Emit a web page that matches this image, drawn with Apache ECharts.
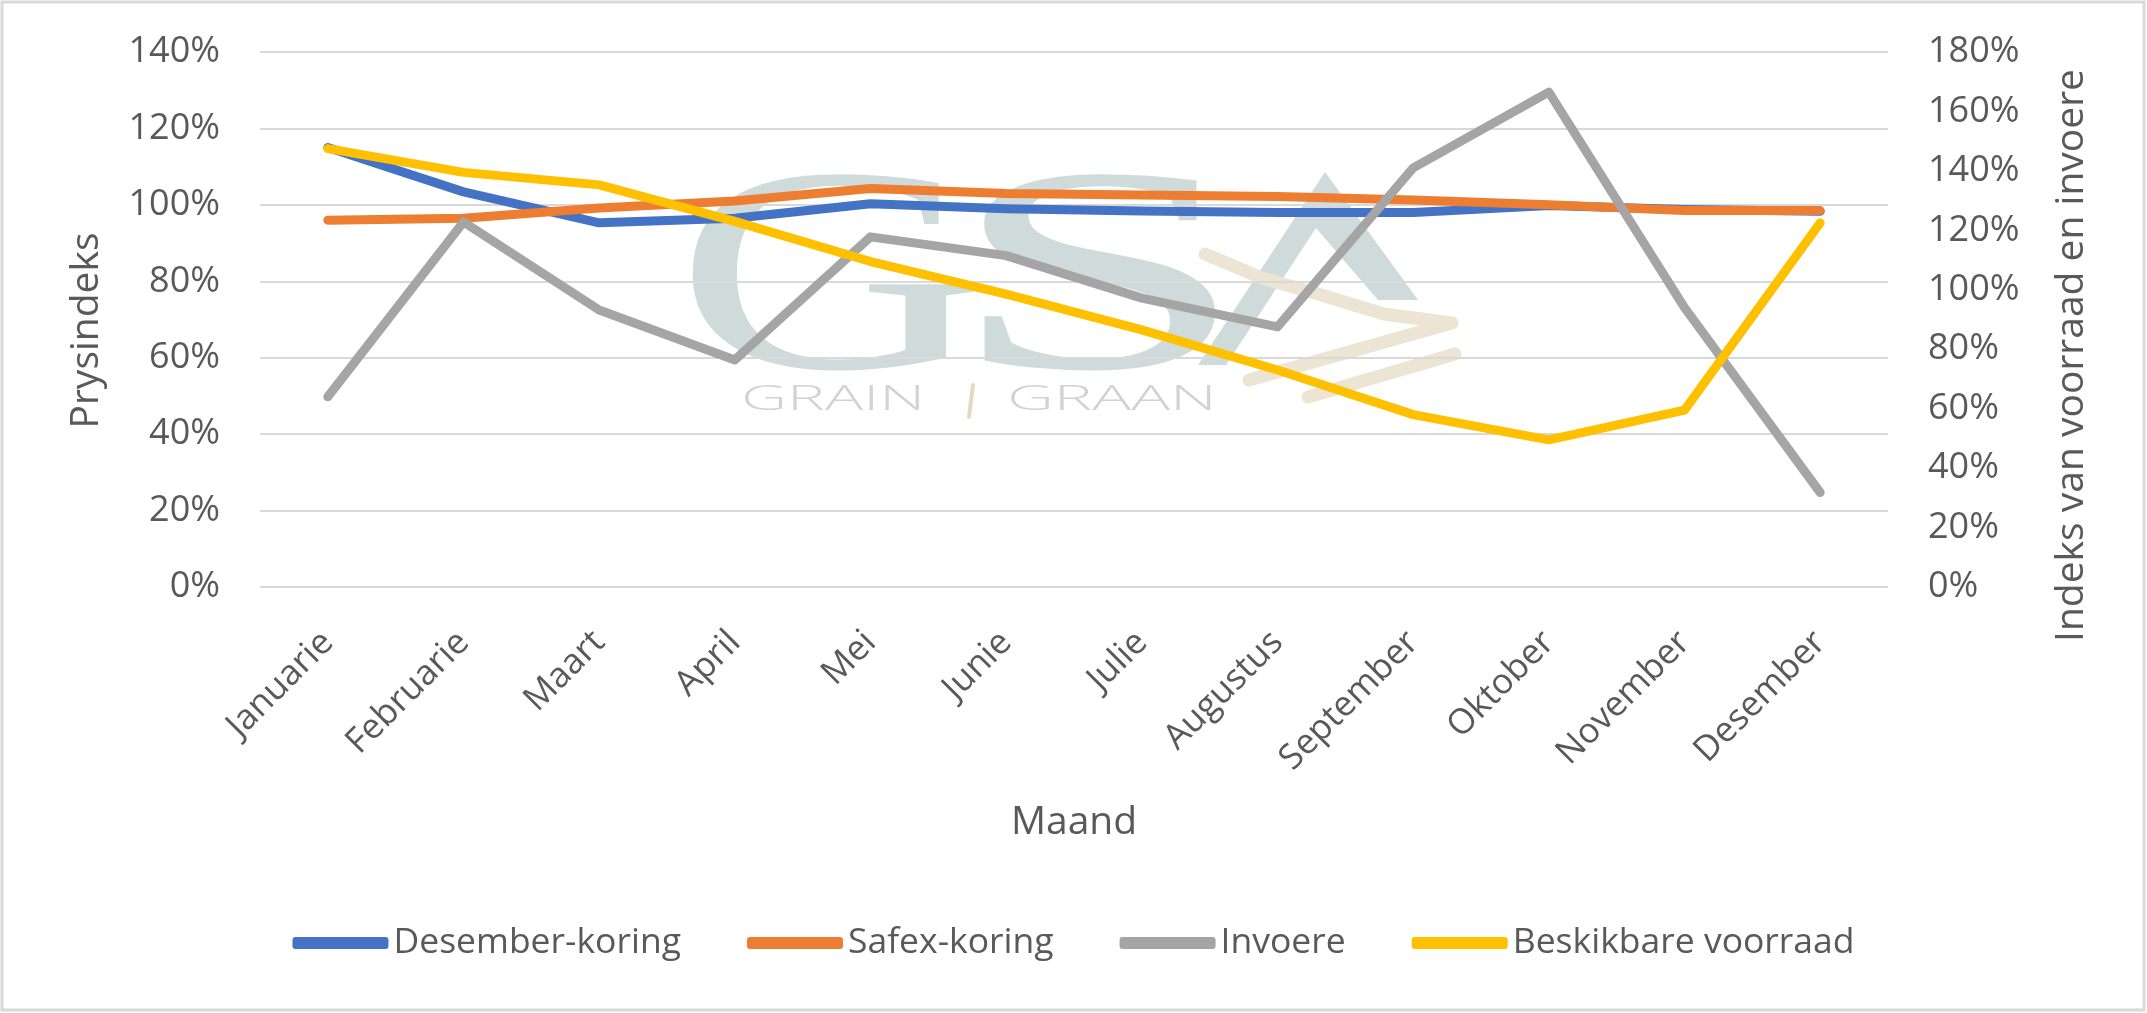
<!DOCTYPE html>
<html>
<head>
<meta charset="utf-8">
<script src="https://cdn.jsdelivr.net/npm/echarts@6/dist/echarts.min.js"></script>
<style>
html,body{margin:0;padding:0;background:#fff;}
#c{width:2147px;height:1013px;}
</style>
</head>
<body>
<div id="c"></div>
<script>
var months = ['Januarie','Februarie','Maart','April','Mei','Junie','Julie','Augustus','September','Oktober','November','Desember'];
var desemberKoring = [115, 103.4, 95.3, 96.5, 100.3, 99.0, 98.4, 98.0, 98.0, 99.8, 98.8, 98.3];
var safexKoring = [96, 96.5, 99.2, 101.0, 104.3, 103.0, 102.6, 102.2, 101.3, 100.0, 98.5, 98.5];
var invoere = [64, 122.8, 93.2, 76.4, 117.8, 111.5, 97.2, 87.5, 141, 166.5, 94, 31.8];
var beskikbareVoorraad = [147.5, 139.5, 135.3, 123, 109.5, 98.5, 86.5, 73, 58, 49.5, 59.5, 122.5];
var leftTicks = {min: 0, max: 140, interval: 20};
var rightTicks = {min: 0, max: 180, interval: 20};

var txt = '#595959';
var font = "'Open Sans', 'Noto Sans', sans-serif";
var chart = echarts.init(document.getElementById('c'), null, {renderer: 'canvas'});

function line(name, data, color, axis) {
  return {
    name: name, type: 'line', data: data, yAxisIndex: axis,
    symbol: 'none', smooth: false,
    lineStyle: {color: color, width: 9, cap: 'round', join: 'round'},
    itemStyle: {color: color},
    z: 3
  };
}

var wm = '#cfdadb';
var beige = '#ece5d4';

chart.setOption({
  backgroundColor: '#fff',
  animation: false,
  textStyle: {fontFamily: font, color: txt},
  grid: {left: 260, right: 259, top: 52, bottom: 426, containLabel: false},
  legend: {
    bottom: 47, left: 'center',
    itemWidth: 96, itemHeight: 12, itemGap: 66,
    icon: 'roundRect',
    textStyle: {fontSize: 35.5, color: txt, fontFamily: font},
    data: ['Desember-koring','Safex-koring','Invoere','Beskikbare voorraad']
  },
  xAxis: {
    type: 'category', data: months, boundaryGap: true,
    axisLine: {show: false}, axisTick: {show: false},
    axisLabel: {rotate: 45, fontSize: 35, color: txt, margin: 50, fontFamily: font, interval: 0},
    name: 'Maand', nameLocation: 'middle', nameGap: 216,
    nameTextStyle: {fontSize: 39, color: txt, fontFamily: font}
  },
  yAxis: [{
    type: 'value', min: leftTicks.min, max: leftTicks.max, interval: leftTicks.interval,
    position: 'left',
    axisLine: {show: false}, axisTick: {show: false},
    axisLabel: {formatter: '{value}%', fontSize: 36, color: txt, margin: 40, fontFamily: font},
    splitLine: {lineStyle: {color: '#d9d9d9', width: 2}},
    name: 'Prysindeks', nameLocation: 'middle', nameGap: 154, nameRotate: 90,
    nameTextStyle: {fontSize: 39, color: txt, fontFamily: font, padding: [0, 22, 0, 0]}
  }, {
    type: 'value', min: rightTicks.min, max: rightTicks.max, interval: rightTicks.interval,
    position: 'right',
    axisLine: {show: false}, axisTick: {show: false},
    axisLabel: {formatter: '{value}%', fontSize: 36, color: txt, margin: 40, fontFamily: font},
    splitLine: {show: false},
    name: 'Indeks van voorraad en invoere', nameLocation: 'middle', nameGap: 164, nameRotate: 90,
    nameTextStyle: {fontSize: 39, color: txt, fontFamily: font, padding: [0, 72, 0, 0]}
  }],
  graphic: [
    {type: 'rect', shape: {x: 2, y: 2, width: 2142, height: 1008}, style: {fill: 'none', stroke: '#d9d9d9', lineWidth: 3}, z: -10, silent: true},
    {type: 'text', x: 675, y: 291, scaleX: 1.48, style: {text: 'G', font: "normal 292px 'Liberation Serif', 'DejaVu Serif', serif", fill: wm, verticalAlign: 'middle', align: 'left'}, z: -5, silent: true},
    {type: 'text', x: 948, y: 291, scaleX: 1.85, style: {text: 'S', font: "normal 292px 'Liberation Serif', 'DejaVu Serif', serif", fill: wm, verticalAlign: 'middle', align: 'left'}, z: -5, silent: true},
    {type: 'polygon', shape: {points: [[1325, 172], [1418, 300], [1378, 300], [1316, 228], [1226, 365], [1198, 365]]}, style: {fill: wm}, z: -5, silent: true},
    {type: 'polyline', shape: {points: [[1205, 254], [1262, 278], [1318, 294], [1384, 314], [1452, 323], [1249, 380]]}, style: {stroke: beige, lineWidth: 13, fill: 'none', lineCap: 'round', lineJoin: 'round'}, z: -4, silent: true},
    {type: 'polyline', shape: {points: [[1308, 397], [1455, 354]]}, style: {stroke: beige, lineWidth: 13, fill: 'none', lineCap: 'round'}, z: -4, silent: true},
    {type: 'text', x: 741, y: 400, scaleX: 1.82, style: {text: 'GRAIN', font: "300 35px 'Open Sans', sans-serif", fill: '#d2d2d2', verticalAlign: 'middle', align: 'left'}, z: -4, silent: true},
    {type: 'text', x: 1007, y: 400, scaleX: 1.85, style: {text: 'GRAAN', font: "300 35px 'Open Sans', sans-serif", fill: '#d2d2d2', verticalAlign: 'middle', align: 'left'}, z: -4, silent: true},
    {type: 'line', shape: {x1: 973, y1: 385, x2: 969, y2: 417}, style: {stroke: '#e4dac2', lineWidth: 4, lineCap: 'round'}, z: -4, silent: true}
  ],
  series: [
    line('Desember-koring', desemberKoring, '#4472C4', 0),
    line('Safex-koring', safexKoring, '#ED7D31', 0),
    line('Invoere', invoere, '#A5A5A5', 1),
    line('Beskikbare voorraad', beskikbareVoorraad, '#FFC000', 1)
  ]
});
</script>
</body>
</html>
